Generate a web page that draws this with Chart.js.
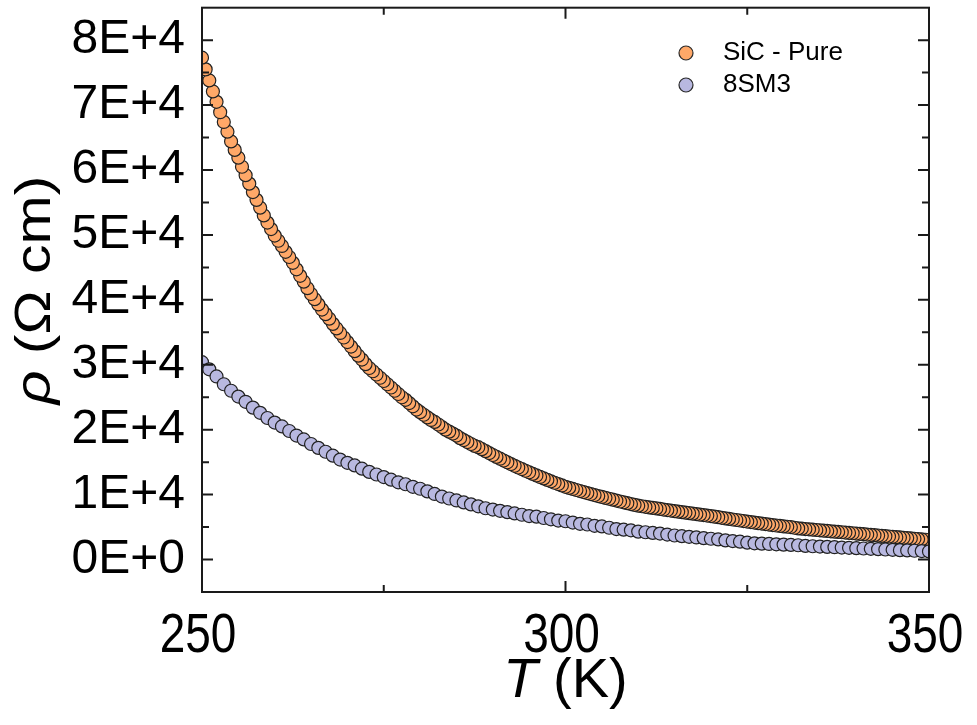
<!DOCTYPE html>
<html>
<head>
<meta charset="utf-8">
<title>Resistivity vs temperature</title>
<script src="https://cdn.jsdelivr.net/npm/chart.js@4.4.1/dist/chart.umd.min.js"></script>
<style>
  html, body { margin: 0; padding: 0; background: #ffffff; }
  #wrap { width: 977px; height: 725px; }
</style>
</head>
<body>
<div id="wrap"><canvas id="chart" width="977" height="725"></canvas></div>
<script>
  const seriesLabels = ['SiC - Pure', '8SM3'];
  const seriesColors = ['#ffa868', '#b8b8e0'];

  // SiC - Pure, every 0.5 K
  const tempsPure = [
    250, 250.5, 251, 251.5, 252, 252.5, 253, 253.5, 254, 254.5,
    255, 255.5, 256, 256.5, 257, 257.5, 258, 258.5, 259, 259.5,
    260, 260.5, 261, 261.5, 262, 262.5, 263, 263.5, 264, 264.5,
    265, 265.5, 266, 266.5, 267, 267.5, 268, 268.5, 269, 269.5,
    270, 270.5, 271, 271.5, 272, 272.5, 273, 273.5, 274, 274.5,
    275, 275.5, 276, 276.5, 277, 277.5, 278, 278.5, 279, 279.5,
    280, 280.5, 281, 281.5, 282, 282.5, 283, 283.5, 284, 284.5,
    285, 285.5, 286, 286.5, 287, 287.5, 288, 288.5, 289, 289.5,
    290, 290.5, 291, 291.5, 292, 292.5, 293, 293.5, 294, 294.5,
    295, 295.5, 296, 296.5, 297, 297.5, 298, 298.5, 299, 299.5,
    300, 300.5, 301, 301.5, 302, 302.5, 303, 303.5, 304, 304.5,
    305, 305.5, 306, 306.5, 307, 307.5, 308, 308.5, 309, 309.5,
    310, 310.5, 311, 311.5, 312, 312.5, 313, 313.5, 314, 314.5,
    315, 315.5, 316, 316.5, 317, 317.5, 318, 318.5, 319, 319.5,
    320, 320.5, 321, 321.5, 322, 322.5, 323, 323.5, 324, 324.5,
    325, 325.5, 326, 326.5, 327, 327.5, 328, 328.5, 329, 329.5,
    330, 330.5, 331, 331.5, 332, 332.5, 333, 333.5, 334, 334.5,
    335, 335.5, 336, 336.5, 337, 337.5, 338, 338.5, 339, 339.5,
    340, 340.5, 341, 341.5, 342, 342.5, 343, 343.5, 344, 344.5,
    345, 345.5, 346, 346.5, 347, 347.5, 348, 348.5, 349, 349.5,
    350,
  ];
  const rhoPure = [
    77300, 75500, 73800, 72100, 70500, 68900, 67400, 65900, 64400, 63100,
    61900, 60500, 59200, 57900, 56600, 55400, 54200, 53000, 51900, 50900,
    49900, 49100, 48300, 47400, 46600, 45700, 44700, 43700, 42800, 41800,
    40900, 40100, 39300, 38500, 37800, 37100, 36300, 35600, 34900, 34200,
    33500, 32800, 32100, 31400, 30800, 30100, 29500, 29000, 28500, 28000,
    27500, 27000, 26500, 26000, 25500, 25000, 24600, 24100, 23600, 23100,
    22700, 22300, 21900, 21500, 21200, 20800, 20400, 20000, 19700, 19400,
    19100, 18700, 18400, 18100, 17800, 17500, 17300, 17000, 16700, 16400,
    16100, 15810, 15530, 15250, 14970, 14700, 14440, 14180, 13930, 13680,
    13430, 13190, 12950, 12720, 12490, 12270, 12050, 11830, 11620, 11410,
    11200, 11030, 10870, 10710, 10550, 10390, 10240, 10080, 9930, 9780,
    9640, 9500, 9360, 9220, 9080, 8940, 8810, 8680, 8550, 8420,
    8300, 8210, 8120, 8030, 7950, 7870, 7790, 7700, 7620, 7540,
    7460, 7380, 7300, 7220, 7150, 7070, 7000, 6920, 6850, 6770,
    6700, 6610, 6520, 6430, 6340, 6260, 6170, 6090, 6010, 5930,
    5850, 5770, 5690, 5610, 5540, 5460, 5390, 5310, 5240, 5170,
    5100, 5050, 5000, 4900, 4800, 4750, 4700, 4650, 4600, 4550,
    4500, 4450, 4400, 4350, 4300, 4250, 4200, 4150, 4100, 4050,
    4000, 3950, 3900, 3850, 3800, 3750, 3700, 3650, 3600, 3550,
    3500, 3450, 3400, 3350, 3300, 3250, 3200, 3150, 3100, 3050,
    3000,
  ];

  // 8SM3, every 1 K
  const temps8SM3 = [
    250, 251, 252, 253, 254, 255, 256, 257, 258, 259,
    260, 261, 262, 263, 264, 265, 266, 267, 268, 269,
    270, 271, 272, 273, 274, 275, 276, 277, 278, 279,
    280, 281, 282, 283, 284, 285, 286, 287, 288, 289,
    290, 291, 292, 293, 294, 295, 296, 297, 298, 299,
    300, 301, 302, 303, 304, 305, 306, 307, 308, 309,
    310, 311, 312, 313, 314, 315, 316, 317, 318, 319,
    320, 321, 322, 323, 324, 325, 326, 327, 328, 329,
    330, 331, 332, 333, 334, 335, 336, 337, 338, 339,
    340, 341, 342, 343, 344, 345, 346, 347, 348, 349,
    350,
  ];
  const rho8SM3 = [
    30400, 29300, 28200, 27000, 26000, 25100, 24300, 23400, 22600, 21800,
    21100, 20500, 19800, 19100, 18500, 17800, 17200, 16600, 16000, 15400,
    14900, 14500, 14000, 13500, 13100, 12700, 12300, 11900, 11600, 11200,
    10900, 10500, 10100, 9700, 9400, 9100, 8800, 8500, 8200, 7900,
    7700, 7500, 7300, 7100, 6900, 6700, 6600, 6400, 6200, 6000,
    5900, 5700, 5500, 5400, 5200, 5100, 4900, 4700, 4600, 4500,
    4300, 4200, 4100, 4000, 3850, 3700, 3600, 3500, 3400, 3300,
    3200, 3100, 2950, 2850, 2750, 2600, 2500, 2450, 2400, 2350,
    2300, 2250, 2200, 2100, 2050, 2000, 1950, 1900, 1850, 1800,
    1750, 1700, 1650, 1600, 1550, 1500, 1450, 1400, 1350, 1300,
    1250,
  ];

  const xTickValues = [250, 300, 350];
  const xTickLabels = ['250', '300', '350'];
  const xMinorTicks = [275, 325];
  const yTickValues = [0, 10000, 20000, 30000, 40000, 50000, 60000, 70000, 80000];
  const yTickLabels = ['0E+0', '1E+4', '2E+4', '3E+4', '4E+4', '5E+4', '6E+4', '7E+4', '8E+4'];
  const yMinorTicks = [5000, 15000, 25000, 35000, 45000, 55000, 65000, 75000];

  const FONT = "'Liberation Sans', Arial, sans-serif";
  const INK = '#1a1a1a';

  function toPoints(xs, ys) {
    return xs.map((x, i) => ({ x, y: ys[i] }));
  }

  // draw parts of a label with mixed fonts, centred on x
  function drawParts(ctx, parts, x, y) {
    let total = 0;
    parts.forEach(([f, t]) => { ctx.font = f; total += ctx.measureText(t).width; });
    let cx = x - total / 2;
    parts.forEach(([f, t]) => { ctx.font = f; ctx.fillText(t, cx, y); cx += ctx.measureText(t).width; });
  }

  // frame, inward ticks on all four sides, x labels, titles and the legend
  const framePlugin = {
    id: 'framePlugin',
    afterDatasetsDraw(chart) {
      const { ctx, chartArea: a, scales: { x, y } } = chart;
      ctx.save();
      ctx.strokeStyle = INK;
      ctx.lineWidth = 2;
      ctx.strokeRect(a.left, a.top, a.right - a.left, a.bottom - a.top);

      const tickX = (v, len) => {
        const px = x.getPixelForValue(v);
        ctx.moveTo(px, a.bottom); ctx.lineTo(px, a.bottom - len);
        ctx.moveTo(px, a.top); ctx.lineTo(px, a.top + len);
      };
      const tickY = (v, len) => {
        const py = y.getPixelForValue(v);
        ctx.moveTo(a.left, py); ctx.lineTo(a.left + len, py);
        ctx.moveTo(a.right, py); ctx.lineTo(a.right - len, py);
      };
      ctx.beginPath();
      xTickValues.forEach((v) => tickX(v, 11));
      xMinorTicks.forEach((v) => tickX(v, 7));
      yTickValues.forEach((v) => tickY(v, 11));
      yMinorTicks.forEach((v) => tickY(v, 7));
      ctx.stroke();
      ctx.restore();
    },
    afterDraw(chart) {
      const { ctx, chartArea: a, scales: { x } } = chart;
      ctx.save();
      ctx.fillStyle = '#000';
      ctx.textBaseline = 'alphabetic';

      // x tick labels, condensed like the original
      ctx.font = '56px ' + FONT;
      ctx.textAlign = 'center';
      xTickValues.forEach((v, i) => {
        ctx.save();
        ctx.translate(x.getPixelForValue(v) - 4, 652);
        ctx.scale(0.82, 1);
        ctx.fillText(xTickLabels[i], 0, 0);
        ctx.restore();
      });
      ctx.textAlign = 'left';

      // y title: rho (Ohm cm), rho italic
      ctx.save();
      ctx.translate(50, 290);
      ctx.rotate(-Math.PI / 2);
      ctx.scale(1.18, 1);
      drawParts(ctx, [['italic 50px ' + FONT, '\u03c1'], ['50px ' + FONT, ' (\u03a9 cm)']], 0, 0);
      ctx.restore();

      // x title: T (K), T italic
      drawParts(ctx, [['italic 56px ' + FONT, 'T'], ['56px ' + FONT, ' (K)']], (a.left + a.right) / 2, 697);

      // legend
      ctx.font = '26px ' + FONT;
      ctx.textBaseline = 'middle';
      seriesLabels.forEach((label, i) => {
        const cy = 53 + i * 32;
        ctx.beginPath();
        ctx.arc(686, cy, 7, 0, Math.PI * 2);
        ctx.fillStyle = seriesColors[i];
        ctx.fill();
        ctx.lineWidth = 1.2;
        ctx.strokeStyle = '#2a2a2a';
        ctx.stroke();
        ctx.fillStyle = '#000';
        ctx.fillText(label, 723, cy);
      });
      ctx.restore();
    },
  };

  const pointStyle = (color) => ({
    backgroundColor: color,
    borderColor: '#222222',
    borderWidth: 1.2,
    pointRadius: 6.5,
    pointHoverRadius: 6.5,
    showLine: false,
    clip: 0,
  });

  new Chart(document.getElementById('chart').getContext('2d'), {
    type: 'scatter',
    data: {
      datasets: [
        {
          label: seriesLabels[1],
          data: toPoints(temps8SM3, rho8SM3),
          order: 0,
          ...pointStyle(seriesColors[1]),
        },
        {
          label: seriesLabels[0],
          // cooling run: drawn from high to low temperature
          data: toPoints(tempsPure, rhoPure).reverse(),
          order: 1,
          ...pointStyle(seriesColors[0]),
        },
      ],
    },
    options: {
      responsive: false,
      animation: false,
      devicePixelRatio: 1,
      layout: { padding: { top: 6, right: 48, left: 0, bottom: 0 } },
      plugins: {
        legend: { display: false },
        tooltip: { enabled: false },
      },
      scales: {
        x: {
          type: 'linear',
          min: 250,
          max: 350,
          afterBuildTicks: (scale) => { scale.ticks = xTickValues.map((value) => ({ value })); },
          afterFit: (scale) => {
            scale.height = 133;
            scale.paddingLeft = 0;
            scale.paddingRight = 0;
          },
          grid: { display: false, drawTicks: false },
          border: { display: false },
          ticks: { display: false },
        },
        y: {
          type: 'linear',
          min: -5000,
          max: 85000,
          afterBuildTicks: (scale) => { scale.ticks = yTickValues.map((value) => ({ value })); },
          afterFit: (scale) => {
            scale.width = 202;
            scale.paddingTop = 0;
            scale.paddingBottom = 0;
          },
          grid: { display: false, drawTicks: false },
          border: { display: false },
          ticks: {
            color: '#000',
            padding: 17,
            autoSkip: false,
            font: { family: FONT, size: 48 },
            callback: (value, index) => yTickLabels[index],
          },
        },
      },
    },
    plugins: [framePlugin],
  });
</script>
</body>
</html>
